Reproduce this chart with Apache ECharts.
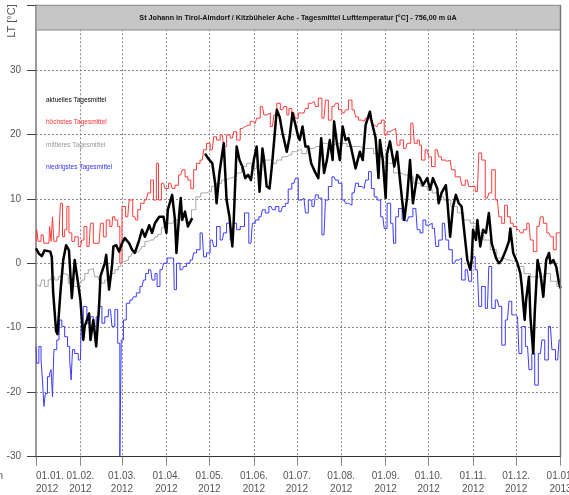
<!DOCTYPE html>
<html><head><meta charset="utf-8">
<script src="https://cdn.jsdelivr.net/npm/echarts@6/dist/echarts.min.js"></script>
<style>html,body{margin:0;padding:0;background:#fff}#c{width:569px;height:495px}</style>
</head><body><div id="c"></div>
<script>
// [day of year (0 = 01.01.2012), value °C]
const aktuell = [[0,2.3],[2,1.5],[4,1.1],[6,2.0],[10,1.8],[11,1.0],[12,-4.6],[14,-10.5],[15,-11.0],[17,-4.6],[19,0.5],[21,2.8],[23,2.0],[25,-5.4],[27,0.5],[28,-1.0],[31,-5.7],[33,-11.9],[34,-9.8],[37,-7.8],[38,-11.9],[40,-8.8],[42,-12.9],[44,-6.7],[45,-2.0],[48,0.0],[49,1.3],[51,-4.1],[53,-0.5],[54,2.6],[56,2.8],[58,1.8],[60,3.1],[62,3.9],[65,3.1],[67,2.1],[69,1.6],[72,3.6],[74,5.2],[76,4.1],[79,5.9],[81,4.7],[83,6.2],[86,7.2],[89,7.2],[91,4.7],[92,8.3],[95,10.6],[97,6.7],[98,1.6],[100,7.8],[101,10.1],[102,6.7],[104,8.0],[106,5.7],[109,7.0],[110,null],
[118,17.0],[120,16.3],[123,15.5],[125,12.4],[126,9.3],[128,14.0],[131,18.6],[133,9.8],[135,7.2],[137,2.6],[138,6.7],[140,18.1],[142,16.0],[144,15.0],[146,13.2],[148,13.7],[150,12.9],[152,16.0],[154,18.1],[156,11.1],[158,17.8],[159,16.3],[161,11.9],[163,11.6],[165,16.0],[167,21.2],[168,23.8],[170,22.7],[172,20.2],[175,17.3],[177,19.6],[179,23.3],[181,21.5],[183,19.6],[184,19.1],[186,21.2],[188,18.1],[190,18.1],[192,15.5],[195,14.0],[197,13.2],[199,19.4],[201,14.0],[203,16.0],[205,19.1],[207,16.0],[208,22.0],[210,18.6],[212,16.0],[214,21.2],[216,19.1],[218,19.4],[220,17.8],[223,14.7],[226,17.3],[228,16.0],[230,21.4],[233,23.5],[234,22.2],[237,19.4],[239,13.2],[240,19.1],[242,16.0],[244,10.1],[245,17.0],[247,18.9],[250,15.0],[252,17.3],[254,12.9],[257,6.7],[259,10.3],[261,16.0],[263,9.3],[266,13.7],[268,13.2],[270,12.1],[273,13.2],[275,11.4],[277,13.2],[280,11.6],[281,9.3],[283,10.9],[286,12.1],[287,9.8],[289,4.1],[291,8.8],[293,10.6],[295,9.3],[297,8.8],[298,6.7],[301,0.5],[303,-1.0],[304,0.5],[305,5.2],[307,3.6],[308,6.7],[310,2.6],[312,5.2],[314,4.7],[316,7.8],[318,3.1],[321,0.8],[323,0.0],[325,0.5],[328,2.1],[330,3.4],[331,5.4],[333,1.6],[336,0.0],[338,-1.6],[339,-3.6],[341,-8.8],[342,-5.7],[344,-2.1],[345,-8.3],[347,-14.0],[348,-7.8],[350,0.5],[352,-1.6],[354,-5.2],[356,0.5],[358,1.6],[359,0.0],[361,0.5],[363,-0.5],[365,-3.1],[366,-3.9]];

const hoechst = [[0,3.4],[1,5.2],[2,3.4],[5,4.4],[6,3.1],[9,3.1],[10,5.7],[11,3.4],[12,7.2],[13,3.4],[16,4.1],[18,9.3],[19,4.1],[21,5.2],[22,8.8],[24,4.7],[26,3.4],[28,4.1],[31,2.6],[33,3.6],[34,5.7],[37,2.6],[39,6.2],[41,3.1],[44,3.1],[46,6.2],[48,4.1],[50,6.7],[53,5.7],[54,7.2],[56,6.7],[58,5.7],[59,0.0],[61,8.8],[64,7.2],[66,9.8],[69,7.2],[70,6.7],[72,8.3],[74,9.3],[77,9.8],[79,10.9],[81,12.9],[83,9.8],[85,15.5],[86,9.8],[89,12.4],[91,11.6],[94,12.4],[96,11.6],[98,12.1],[101,13.7],[103,14.5],[105,13.4],[107,12.9],[109,11.6],[111,14.5],[113,15.5],[116,16.0],[118,17.6],[120,18.6],[123,17.6],[125,19.6],[127,19.1],[130,19.9],[132,18.1],[134,19.9],[137,19.4],[139,20.4],[141,19.1],[144,20.9],[146,21.2],[148,21.4],[151,22.0],[153,21.7],[155,22.5],[158,24.3],[160,23.0],[162,23.3],[165,21.2],[167,23.0],[169,24.8],[172,23.8],[174,24.3],[176,23.0],[177,24.0],[180,23.3],[182,22.5],[184,23.3],[187,23.3],[189,24.0],[191,24.8],[194,25.1],[196,24.3],[198,25.6],[201,22.5],[203,25.3],[205,22.2],[208,24.3],[210,24.8],[212,23.8],[215,23.3],[217,23.8],[219,25.3],[222,23.8],[224,22.7],[226,22.2],[229,22.0],[231,22.5],[233,22.2],[236,21.4],[238,21.2],[240,21.7],[242,22.2],[244,19.9],[246,20.4],[248,20.7],[251,20.9],[253,18.3],[255,19.1],[258,17.8],[260,18.6],[263,21.7],[265,18.6],[267,19.1],[268,18.3],[270,16.0],[273,17.6],[275,16.5],[277,15.0],[280,17.6],[282,16.5],[284,16.0],[287,15.8],[289,16.0],[291,14.5],[294,13.4],[296,13.4],[298,12.1],[301,12.9],[303,11.9],[305,11.9],[308,11.1],[310,17.1],[312,16.0],[315,10.1],[317,10.9],[319,14.5],[322,9.8],[324,7.2],[326,6.2],[328,9.0],[330,7.2],[332,6.2],[334,5.7],[337,5.2],[339,4.7],[341,5.2],[344,6.2],[346,3.6],[348,1.8],[351,5.7],[353,7.2],[355,6.2],[358,4.7],[360,4.1],[362,2.1],[364,4.7],[366,4.7]];

const mittel = [[0,-3.4],[3,-3.6],[5,-2.6],[7,-3.6],[10,-2.6],[12,-2.1],[14,-2.6],[17,-2.1],[19,-1.6],[21,-1.8],[24,-3.1],[26,-3.1],[28,-3.6],[31,-3.1],[33,-2.6],[35,-1.6],[38,-1.0],[40,-0.8],[42,-2.1],[45,-2.6],[47,-3.1],[49,-2.6],[52,-2.1],[54,-1.6],[56,-1.0],[59,-0.5],[61,0.3],[63,0.5],[66,1.0],[68,1.6],[70,1.8],[73,2.1],[75,2.6],[77,3.4],[80,3.6],[82,3.6],[84,4.1],[86,4.5],[89,5.5],[91,6.2],[94,6.2],[98,6.7],[103,7.2],[107,6.5],[110,8.3],[113,10.3],[117,10.9],[121,11.1],[124,11.9],[128,12.4],[131,12.9],[135,13.2],[138,13.4],[142,14.0],[145,15.0],[149,15.5],[152,14.7],[156,15.2],[159,16.0],[163,16.0],[166,15.5],[170,16.0],[173,16.5],[177,16.8],[180,17.3],[184,17.6],[187,17.0],[191,17.8],[196,18.1],[201,18.6],[205,18.3],[210,18.6],[215,18.6],[219,18.1],[224,18.1],[229,17.8],[233,17.8],[238,17.0],[243,16.5],[247,15.5],[252,14.0],[257,13.7],[261,13.4],[266,12.4],[271,11.9],[275,11.4],[278,10.9],[282,10.3],[287,9.8],[292,8.8],[296,7.8],[301,6.7],[305,6.2],[310,4.7],[315,3.6],[319,2.1],[324,0.8],[329,0.5],[333,0.3],[338,-0.5],[343,-1.6],[347,-2.1],[352,-2.1],[357,-1.6],[361,-2.8],[366,-3.6]];

const niedrig = [[0,-12.9],[1,-15.5],[3,-12.9],[4,-15.0],[5,-18.1],[6,-22.2],[7,-20.2],[9,-17.6],[10,-17.1],[11,-16.5],[12,-20.7],[13,-13.4],[16,-11.9],[17,-8.8],[19,-9.8],[21,-11.4],[23,-12.9],[24,-15.0],[25,-18.1],[26,-13.4],[28,-14.0],[31,-15.0],[32,-9.8],[34,-6.7],[37,-9.3],[39,-8.3],[41,-9.8],[43,-8.3],[45,-6.7],[47,-9.3],[49,-8.3],[52,-7.2],[54,-9.8],[56,-7.2],[58,-12.4],[59,-30.0],[60,-11.9],[62,-8.8],[64,-6.2],[67,-5.7],[69,-5.2],[71,-4.6],[74,-3.6],[76,-2.6],[77,-1.6],[80,-1.0],[82,-2.6],[84,-1.6],[85,-3.6],[88,-1.0],[90,0.0],[93,0.8],[96,0.8],[97,-4.1],[99,0.0],[102,-1.0],[104,-0.5],[106,0.0],[109,0.5],[111,1.6],[113,2.1],[116,4.7],[118,1.0],[120,1.6],[123,3.6],[125,2.6],[127,5.7],[130,3.6],[132,4.7],[134,6.2],[137,3.6],[139,6.2],[141,5.2],[144,5.7],[147,7.8],[150,3.1],[152,6.2],[154,6.7],[157,7.2],[159,8.3],[161,7.8],[164,8.8],[166,8.3],[168,8.8],[171,8.0],[173,8.8],[175,9.3],[177,11.5],[180,12.4],[182,13.2],[184,9.8],[187,10.1],[189,7.8],[191,9.8],[194,8.8],[196,10.6],[198,10.1],[201,4.4],[203,9.8],[205,11.9],[208,13.4],[210,12.9],[212,12.4],[215,9.8],[217,9.3],[219,9.0],[222,10.9],[224,12.4],[226,11.9],[229,11.6],[231,12.9],[233,14.2],[235,11.6],[237,10.3],[239,9.8],[242,7.2],[244,5.4],[246,9.3],[249,6.2],[250,3.1],[252,7.2],[254,8.5],[257,6.7],[259,6.5],[261,7.2],[265,8.5],[267,5.2],[269,4.7],[271,6.7],[273,5.9],[275,6.2],[278,5.4],[280,2.6],[282,3.6],[285,6.2],[287,3.6],[289,2.1],[292,0.0],[294,0.5],[296,0.8],[298,-2.6],[301,-1.0],[303,-2.8],[305,1.0],[308,-1.0],[310,-6.7],[312,-3.6],[315,-7.0],[317,-0.5],[319,-7.0],[322,-5.7],[324,-6.7],[326,-12.7],[329,-8.8],[331,-5.9],[333,-8.0],[336,-8.3],[338,-14.0],[340,-9.8],[343,-12.9],[345,-16.5],[347,-14.0],[349,-18.9],[352,-14.0],[354,-11.9],[356,-15.0],[359,-9.8],[361,-13.4],[364,-15.0],[366,-11.9]];

const monthTicks = ['01.01.2012','01.02.2012','01.03.2012','01.04.2012','01.05.2012','01.06.2012','01.07.2012','01.08.2012','01.09.2012','01.10.2012','01.11.2012','01.12.2012','01.01.2013'];
const yMin = -30, yMax = 40, yStep = 10;
const seriesNames = ['aktuelles Tagesmittel','höchstes Tagesmittel','mittleres Tagesmittel','niedrigstes Tagesmittel'];
const titleText = 'St Johann in Tirol-Almdorf / Kitzbüheler Ache - Tagesmittel Lufttemperatur [°C] - 756,00 m üA';
const yAxisTitle = 'LT [°C]';

const pad = n => (n < 10 ? '0' : '') + n;
const days = [];
for (let d = 0; d <= 366; d++) {
  const t = new Date(Date.UTC(2012, 0, 1 + d));
  days.push(pad(t.getUTCDate()) + '.' + pad(t.getUTCMonth() + 1) + '.' + t.getUTCFullYear());
}
const isTick = (i, v) => monthTicks.indexOf(v) >= 0;
const FONT = "'Liberation Sans', Arial, sans-serif";

const chart = echarts.init(document.getElementById('c'), null, {renderer: 'canvas'});
const stepLine = (name, data, color, z) => ({
  name, type: 'line', data, step: 'middle', showSymbol: false, symbol: 'none',
  lineStyle: {color, width: 1}, z, silent: true
});
chart.setOption({
  animation: false,
  backgroundColor: '#fff',
  grid: {left: 36, right: 8.5, top: 5.3, bottom: 38.3, outerBoundsMode: 'none'},
  xAxis: {
    type: 'category', data: days, boundaryGap: false,
    axisLine: {show: true, onZero: false, lineStyle: {color: '#333', width: 1}},
    axisTick: {show: true, interval: isTick, length: 9, lineStyle: {color: '#888'}},
    axisLabel: {interval: isTick, formatter: v => v.slice(0, 6) + '\n' + v.slice(6),
      fontSize: 10, color: '#555', lineHeight: 13, margin: 13, alignMinLabel: 'left', alignMaxLabel: 'center', fontFamily: FONT},
    splitLine: {show: true, interval: isTick, lineStyle: {type: [2, 2], color: '#888', width: 1}}
  },
  yAxis: {
    type: 'value', min: yMin, max: yMax, interval: yStep,
    axisLine: {show: true, lineStyle: {color: '#9a9a9a', width: 2}},
    axisTick: {show: true, length: 9, lineStyle: {color: '#444'}},
    axisLabel: {formatter: v => (v === yMax ? '' : String(v)), fontSize: 10, color: '#555', margin: 15, fontFamily: FONT},
    splitLine: {show: true, lineStyle: {type: [2, 2], color: '#888', width: 1}}
  },
  series: [
    stepLine(seriesNames[1], hoechst, '#ff3c3c', 2),
    stepLine(seriesNames[2], mittel, '#a6a6a6', 2),
    stepLine(seriesNames[3], niedrig, '#3c3cff', 2),
    {name: seriesNames[0], type: 'line', data: aktuell, showSymbol: false, symbol: 'none',
     connectNulls: false, lineStyle: {color: '#000', width: 2.5, join: 'round'}, z: 5, silent: true}
  ],
  graphic: [
    {type: 'rect', z: 100, shape: {x: 36, y: 5.3, width: 524.5, height: 24.7},
     style: {fill: '#c6c6c6', stroke: '#8a8a8a', lineWidth: 1}},
    {type: 'text', z: 101, x: 298, y: 18, style: {text: titleText, fontSize: 7.2, fontWeight: 'bold',
     fontFamily: FONT, fill: '#111', align: 'center', verticalAlign: 'middle'}},
    {type: 'line', z: 100, shape: {x1: 560.5, y1: 5.3, x2: 560.5, y2: 456.7}, style: {stroke: '#777', lineWidth: 1.5}},
    {type: 'text', z: 101, x: 46, y: 100, style: {text: seriesNames[0], fontSize: 6.5, fontFamily: FONT, fill: '#000', verticalAlign: 'middle'}},
    {type: 'text', z: 101, x: 46, y: 122.5, style: {text: seriesNames[1], fontSize: 6.5, fontFamily: FONT, fill: '#ff3030', verticalAlign: 'middle'}},
    {type: 'text', z: 101, x: 46, y: 145, style: {text: seriesNames[2], fontSize: 6.5, fontFamily: FONT, fill: '#999', verticalAlign: 'middle'}},
    {type: 'text', z: 101, x: 46, y: 167.5, style: {text: seriesNames[3], fontSize: 6.5, fontFamily: FONT, fill: '#3030ff', verticalAlign: 'middle'}},
    {type: 'text', z: 101, x: 12, y: 21, rotation: Math.PI / 2, style: {text: yAxisTitle, fontSize: 11, fontFamily: FONT,
     fill: '#555', align: 'center', verticalAlign: 'middle'}},
    {type: 'text', z: 101, x: 3, y: 476, style: {text: 'n', fontSize: 10, fontFamily: FONT, fill: '#555', align: 'right', verticalAlign: 'middle'}}
  ]
});
</script>
</body></html>
